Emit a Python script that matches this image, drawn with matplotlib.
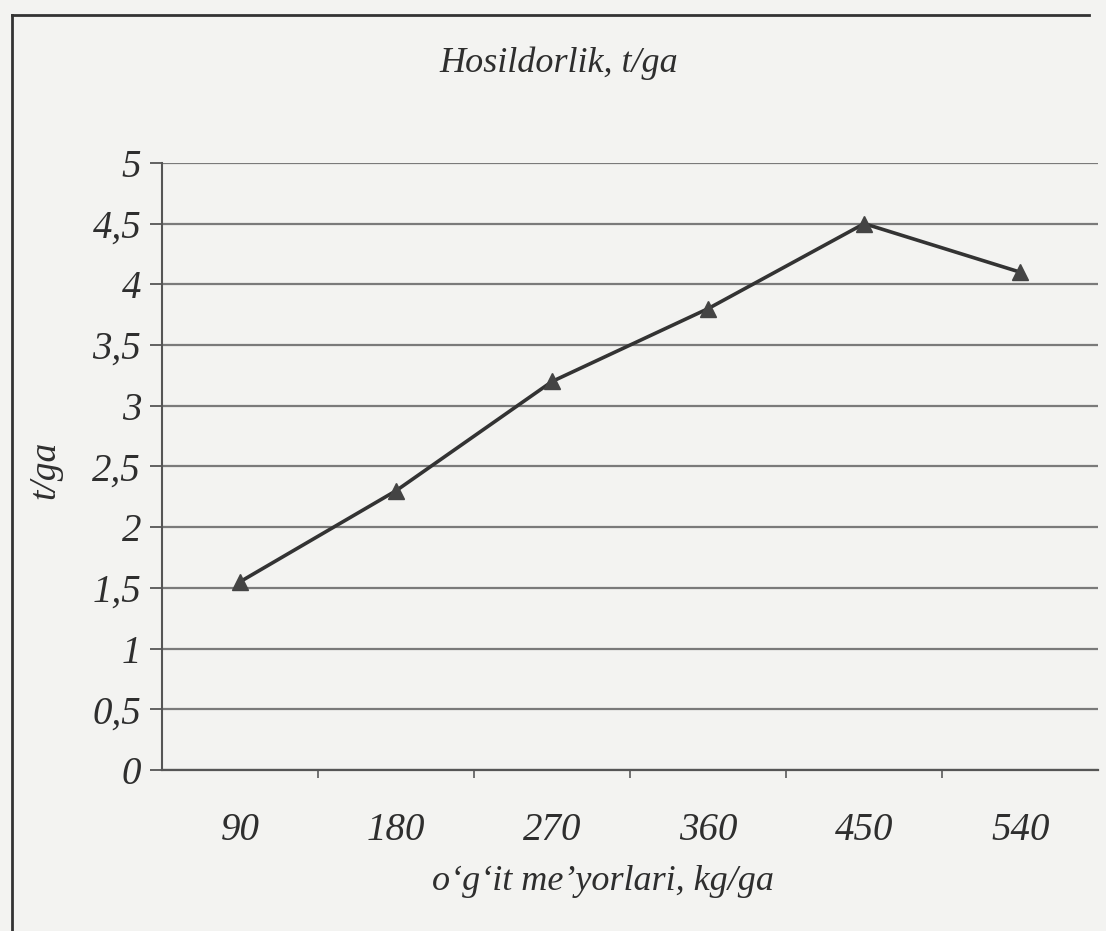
import matplotlib.pyplot as plt
from matplotlib.lines import Line2D
from matplotlib.ticker import FixedLocator

# Data
doses = ['90', '180', '270', '360', '450', '540']
yield_t = [1.55, 2.3, 3.2, 3.8, 4.5, 4.1]
y_ticks = [0, 0.5, 1, 1.5, 2, 2.5, 3, 3.5, 4, 4.5, 5]

plt.rcParams['font.family'] = 'Liberation Serif'
plt.rcParams['font.style'] = 'italic'
ink = '#2e2e2e'

fig = plt.figure(figsize=(11.06, 9.31), dpi=100, facecolor='#f3f3f1')
ax = fig.add_axes([0.1465, 0.173, 0.8465, 0.652])
ax.set_facecolor('none')

x = list(range(len(doses)))
ax.plot(x, yield_t, color='#333333', lw=2.6, marker='^', ms=12,
        markerfacecolor='#444444', markeredgecolor='#444444', zorder=3)

ax.set_xlim(-0.5, len(doses) - 0.5)
ax.set_ylim(0, 5)

# y axis
ax.set_yticks(y_ticks)
ax.set_yticklabels([('%g' % v).replace('.', ',') for v in y_ticks],
                   fontsize=28, color=ink, style='italic')
ax.tick_params(axis='y', direction='out', length=9, width=1.3,
               color='#555555', pad=6)
ax.yaxis.grid(True, color='#7a7a7a', lw=1.6)
ax.set_axisbelow(True)

# x axis: category labels centred, small ticks between categories
ax.set_xticks(x)
ax.set_xticklabels(doses, fontsize=28, color=ink, style='italic')
ax.tick_params(axis='x', which='major', length=0, pad=30)
ax.xaxis.set_minor_locator(FixedLocator([i + 0.5 for i in x[:-1]]))
ax.tick_params(axis='x', which='minor', direction='out', length=6,
               width=1.3, color='#666666')

for s in ['top', 'right']:
    ax.spines[s].set_visible(False)
ax.spines['left'].set_color('#555555')
ax.spines['left'].set_linewidth(1.5)
ax.spines['bottom'].set_color('#555555')
ax.spines['bottom'].set_linewidth(1.6)

fig.text(0.505, 0.932, 'Hosildorlik, t/ga', ha='center', va='center',
         fontsize=26, color=ink, style='italic')
fig.text(0.041, 0.495, 't/ga', ha='center', va='center', rotation=90,
         fontsize=27, color=ink, style='italic')
fig.text(0.545, 0.053, 'o‘g‘it me’yorlari, kg/ga', ha='center', va='center',
         fontsize=26, color=ink, style='italic')

# outer frame of the figure box
fig.add_artist(Line2D([0.011, 0.011], [0.0, 0.984], transform=fig.transFigure,
                      color='#333333', lw=2))
fig.add_artist(Line2D([0.011, 0.985], [0.984, 0.984], transform=fig.transFigure,
                      color='#333333', lw=2))

plt.savefig('out.png', dpi=100, facecolor=fig.get_facecolor())
